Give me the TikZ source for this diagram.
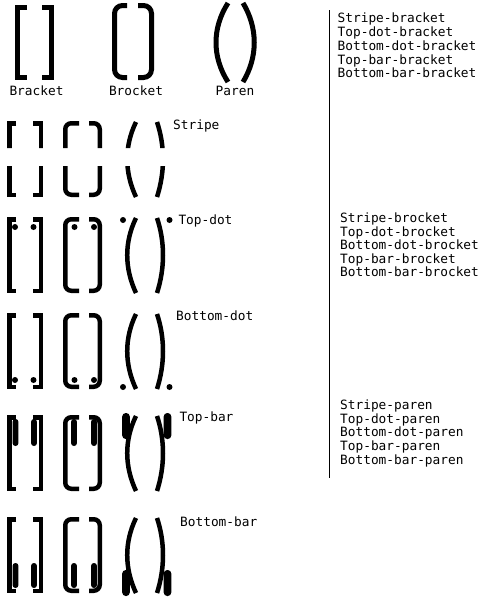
\documentclass[tikz,border=0pt]{standalone}
\usepackage{fontspec}
\setmonofont{DejaVu Sans Mono}
\newcommand\smallglyphs[1]{%
  \draw[sglyph] (16,#1+2.25) -- (9.25,#1+2.25) -- (9.25,#1+73.75) -- (16,#1+73.75);
  \draw[sglyph] (33,#1+2.25) -- (40.75,#1+2.25) -- (40.75,#1+73.75) -- (33,#1+73.75);
  \draw[sglyph,rounded corners=6pt] (79,#1+2.25) -- (65.25,#1+2.25) -- (65.25,#1+73.75) -- (79,#1+73.75);
  \draw[sglyph,rounded corners=6pt] (89,#1+2.25) -- (99.75,#1+2.25) -- (99.75,#1+73.75) -- (89,#1+73.75);
  \draw[sglyph] (136,#1+1) .. controls (124.3,#1+25) and (124.3,#1+51) .. (136,#1+76);
  \draw[sglyph] (157,#1+1) .. controls (165,#1+25) and (165,#1+51) .. (157,#1+76);
}
\newcommand\tbar[3]{\fill[rounded corners=2.8pt] (#1-2.9,#2) rectangle (#1+2.9,#3);}
\newcommand\pbar[3]{\fill[rounded corners=3.5pt] (#1-3.8,#2) rectangle (#1+3.8,#3);}
\begin{document}
\begin{tikzpicture}[x=1pt,y=-1pt,
  bglyph/.style={line width=5pt,line cap=butt,line join=miter},
  sglyph/.style={line width=4.5pt,line cap=butt,line join=miter},
  lbl/.style={font=\ttfamily\fontsize{12.8}{14}\selectfont,inner sep=0pt,anchor=base west},
  clbl/.style={font=\ttfamily\fontsize{12.8}{14}\selectfont,inner sep=0pt,anchor=base}]
\useasboundingbox (0,0) rectangle (496,608);
% top row
\draw[bglyph] (27,7.5) -- (17.5,7.5) -- (17.5,77.5) -- (27,77.5);
\draw[bglyph] (42,7.5) -- (51.5,7.5) -- (51.5,77.5) -- (42,77.5);
\draw[bglyph,rounded corners=8pt] (127,5.5) -- (114.5,5.5) -- (114.5,77.5) -- (127,77.5);
\draw[bglyph,rounded corners=8pt] (138,5.5) -- (151.5,5.5) -- (151.5,77.5) -- (138,77.5);
\draw[bglyph] (228,3) .. controls (212,28) and (212,57) .. (228,82);
\draw[bglyph] (243,3) .. controls (258,28) and (258,57) .. (243,82);
\node[clbl] (lBracket) at (36.5,95) {Bracket};
\node[clbl] (lBrocket) at (136,95) {Brocket};
\node[clbl] (lParen) at (235,95) {Paren};
% stripe row
\begin{scope}
  \clip (0,112) rectangle (172,148) (0,166) rectangle (172,205);
  \smallglyphs{121}
\end{scope}
\node[lbl] (lStripe) at (173,129.3) {Stripe};
% top-dot row
\smallglyphs{217}
\foreach \x in {15,33.5,74.5,94}{\fill (\x,227) circle (3pt);}
\fill (123,220) circle (3pt);
\fill (169.5,220) circle (3pt);
\node[lbl] (lTopdot) at (178.3,224.3) {Top-dot};
% bottom-dot row
\smallglyphs{313}
\foreach \x in {15,33.5,74.5,94}{\fill (\x,380) circle (3pt);}
\fill (123,387) circle (3pt);
\fill (169.5,387) circle (3pt);
\node[lbl] (lBottomdot) at (176,320) {Bottom-dot};
% top-bar row
\smallglyphs{415}
\foreach \x in {15.5,34,74,94}{\tbar{\x}{419}{446}}
\pbar{126}{413}{439}
\pbar{167.5}{413}{439}
\node[lbl] (lTopbar) at (179.3,421.7) {Top-bar};
% bottom-bar row
\smallglyphs{517}
\foreach \x in {15.5,34,74,94}{\tbar{\x}{563}{588}}
\pbar{126}{570}{596}
\pbar{167.5}{570}{596}
\node[lbl] (lBottombar) at (180,526.7) {Bottom-bar};
% separator
\coordinate (sepA) at (329.5,10);
\coordinate (sepB) at (329.5,478);
\draw[line width=1pt] (sepA) -- (sepB);
% right lists
\foreach \t [count=\i from 0] in {Stripe-bracket,Top-dot-bracket,Bottom-dot-bracket,Top-bar-bracket,Bottom-bar-bracket}
  {\node[lbl] (ra\i) at (337.5,22.7+13.8*\i) {\t};}
\foreach \t [count=\i from 0] in {Stripe-brocket,Top-dot-brocket,Bottom-dot-brocket,Top-bar-brocket,Bottom-bar-brocket}
  {\node[lbl] (rb\i) at (340,222.7+13.5*\i) {\t};}
\foreach \t [count=\i from 0] in {Stripe-paren,Top-dot-paren,Bottom-dot-paren,Top-bar-paren,Bottom-bar-paren}
  {\node[lbl] (rc\i) at (340,409.3+13.7*\i) {\t};}
\end{tikzpicture}
\end{document}
